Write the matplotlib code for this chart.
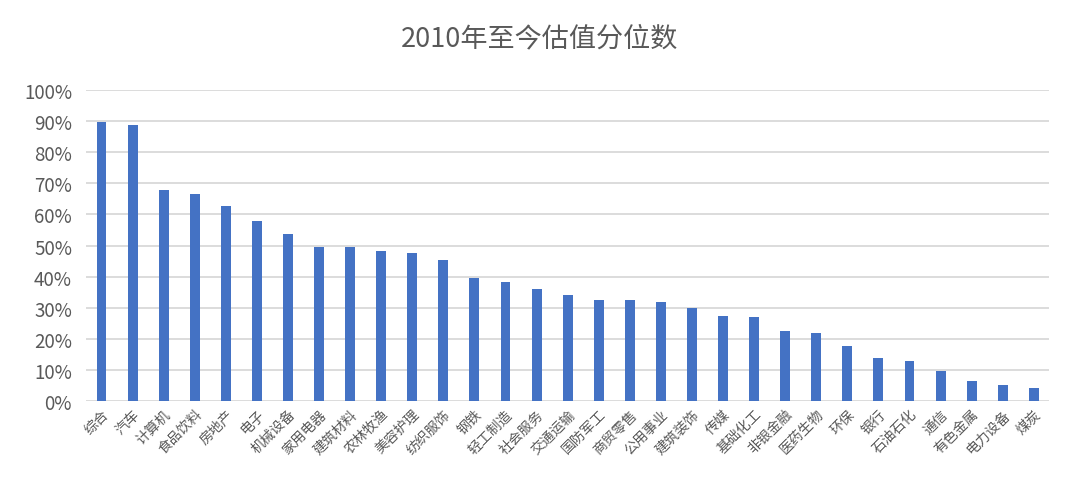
import matplotlib
matplotlib.use("Agg")
import matplotlib.pyplot as plt
from matplotlib.ticker import PercentFormatter

plt.rcParams['font.family'] = ['Noto Sans CJK SC', 'DejaVu Sans']

categories = ["综合", "汽车", "计算机", "食品饮料", "房地产", "电子", "机械设备", "家用电器",
              "建筑材料", "农林牧渔", "美容护理", "纺织服饰", "钢铁", "轻工制造", "社会服务",
              "交通运输", "国防军工", "商贸零售", "公用事业", "建筑装饰", "传媒", "基础化工",
              "非银金融", "医药生物", "环保", "银行", "石油石化", "通信", "有色金属", "电力设备", "煤炭"]
values = [89.7, 88.8, 67.9, 66.7, 62.8, 58.0, 53.8, 49.6, 49.6, 48.3, 47.7, 45.3, 39.6, 38.4,
          36.1, 34.2, 32.4, 32.4, 31.8, 29.9, 27.5, 26.9, 22.6, 22.0, 17.8, 14.0, 12.9, 9.7,
          6.6, 5.3, 4.2]

fig = plt.figure(figsize=(10.8, 4.81), dpi=100)
ax = fig.add_axes([0.0796, 0.164, 0.892, 0.647])
x = list(range(len(categories)))
ax.bar(x, [v / 100 for v in values], width=0.32, color="#4472C4", zorder=3)
ax.set_xlim(-0.5, len(categories) - 0.5)
ax.set_ylim(0, 1.0)
ax.set_yticks([i / 10 for i in range(11)])
ax.yaxis.set_major_formatter(PercentFormatter(1.0, decimals=0))
ax.grid(axis='y', color="#D9D9D9", linewidth=1.3, zorder=0)
ax.set_axisbelow(True)
for s in ax.spines.values():
    s.set_visible(False)
ax.tick_params(axis='both', length=0, colors="#595959")
ax.tick_params(axis='y', labelsize=13.5, pad=10)
ax.set_xticks(x)
ax.set_xticklabels(categories, rotation=45, ha='right', rotation_mode='anchor', fontsize=10, color="#595959")
ax.tick_params(axis='x', pad=4)
fig.text(0.5, 0.92, "2010年至今估值分位数", ha='center', va='center', fontsize=19.5, color="#595959")
fig.savefig("out.png", dpi=100, facecolor="white")
